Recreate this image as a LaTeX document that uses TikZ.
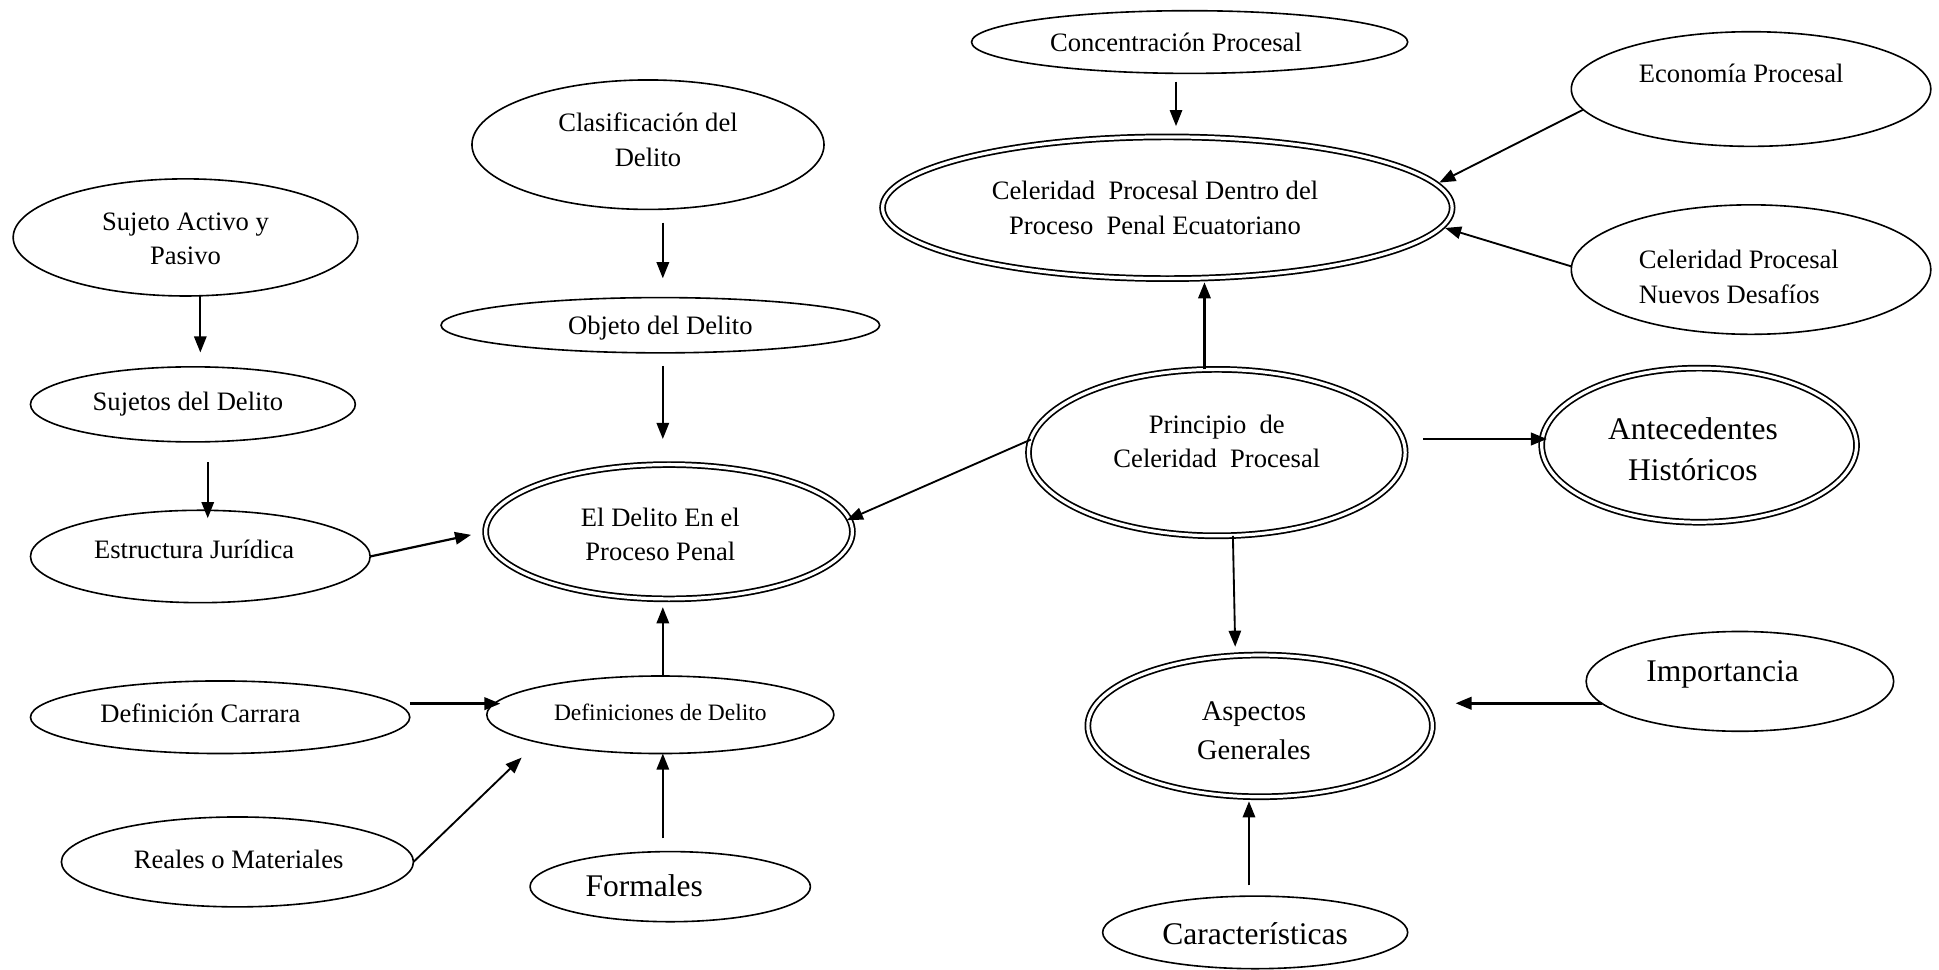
\documentclass[tikz,border=0pt]{standalone}
\usepackage{fontspec}
\setmainfont{Liberation Serif}
\usetikzlibrary{shapes.geometric,arrows.meta}
\tikzset{
  ell/.style={ellipse, draw, line width=1.3pt, inner sep=0pt, outer sep=0pt},
  dbl/.style={ellipse, draw, double, double distance=2.6pt, line width=1.4pt, inner sep=0pt, outer sep=0pt},
  txt/.style={inner sep=0pt, align=center, font=\fontsize{21.5}{28}\selectfont},
  big/.style={inner sep=0pt, align=center, font=\fontsize{25.5}{33}\selectfont},
  arr/.style={line width=1.5pt, -{Triangle[length=13pt,width=10pt]}},
  tarr/.style={line width=2.3pt, -{Triangle[length=13pt,width=10pt]}},
}
\begin{document}
\begin{tikzpicture}[x=1pt,y=-1pt]
\useasboundingbox (0,0) rectangle (1568,784);
% ellipses
\node[ell, minimum width=352.7pt, minimum height=50.7pt] (conc) at (962,34) {};
\node[ell, minimum width=290.7pt, minimum height=92.7pt] (eco) at (1416,72) {};
\node[dbl, minimum width=460.6pt, minimum height=114.6pt] (celd) at (944,168) {};
\node[ell, minimum width=290.7pt, minimum height=104.7pt] (nue) at (1416,218) {};
\node[ell, minimum width=284.7pt, minimum height=104.7pt] (clas) at (524,117) {};
\node[ell, minimum width=278.7pt, minimum height=94.7pt] (suj) at (150,192) {};
\node[ell, minimum width=354.7pt, minimum height=44.7pt] (obj) at (534,263) {};
\node[ell, minimum width=262.7pt, minimum height=60.7pt] (sujd) at (156,327) {};
\node[ell, minimum width=274.7pt, minimum height=74.7pt] (est) at (162,450) {};
\node[dbl, minimum width=296.6pt, minimum height=108.6pt] (del) at (541,430) {};
\node[dbl, minimum width=304.6pt, minimum height=134.6pt] (prin) at (984,366) {};
\node[dbl, minimum width=254.6pt, minimum height=124.6pt] (ant) at (1374,360) {};
\node[ell, minimum width=306.7pt, minimum height=58.7pt] (carr) at (178,580) {};
\node[ell, minimum width=280.7pt, minimum height=62.7pt] (defs) at (534,578) {};
\node[ell, minimum width=284.7pt, minimum height=72.7pt] (real) at (192,697) {};
\node[ell, minimum width=226.7pt, minimum height=56.7pt] (form) at (542,717) {};
\node[dbl, minimum width=278.6pt, minimum height=114.6pt] (asp) at (1019,587) {};
\node[ell, minimum width=248.7pt, minimum height=80.7pt] (imp) at (1407,551) {};
\node[ell, minimum width=246.7pt, minimum height=58.7pt] (car) at (1015,754) {};
% texts
\node[txt] (conc-t) at (951,34) {Concentración Procesal};
\node[txt] (eco-t) at (1408,59) {Economía Procesal};
\node[txt] (celd-t) at (934,168) {Celeridad\ \ Procesal Dentro del\\Proceso\ \ Penal Ecuatoriano};
\node[txt, align=left, anchor=west] (nue-t) at (1325,224) {Celeridad Procesal\\Nuevos Desafíos};
\node[txt] (clas-t) at (524,113) {Clasificación del\\Delito};
\node[txt] (suj-t) at (150,193) {Sujeto Activo y\\Pasivo};
\node[txt] (obj-t) at (534,265) {Objeto del Delito};
\node[txt] (sujd-t) at (152,327) {Sujetos del Delito};
\node[txt] (est-t) at (157,444) {Estructura Jurídica};
\node[txt] (del-t) at (534,432) {El Delito En el\\Proceso Penal};
\node[txt] (prin-t) at (984,357) {Principio\ \ de\\Celeridad\ \ Procesal};
\node[big] (ant-t) at (1369,363) {Antecedentes\\Históricos};
\node[txt] (carr-t) at (162,577) {Definición Carrara};
\node[txt, font=\fontsize{19}{24}\selectfont] (defs-t) at (534,576) {Definiciones de Delito};
\node[txt] (real-t) at (193,695) {Reales o Materiales};
\node[big] (form-t) at (521,716) {Formales};
\node[big, font=\fontsize{23}{31}\selectfont] (asp-t) at (1014,591) {Aspectos\\Generales};
\node[big] (imp-t) at (1393,545) {Importancia};
\node[big] (car-t) at (1015,755) {Características};
% connectors
\draw[arr, shorten <=6.6pt, shorten >=8.7pt] ([xshift=-11pt]conc.south) -- ([xshift=-11pt]conc.south |- celd.north);
\draw[arr, shorten >=3pt] (eco.187) -- (celd.5);
\draw[arr, shorten >=3pt] (nue.179) -- (celd.-4);
\draw[arr, line width=1.9pt, shorten >=3pt] ([xshift=-10pt]prin.north) -- ([xshift=-10pt]prin.north |- celd.south);
\draw[arr, shorten <=10.6pt, shorten >=15.6pt] ([xshift=12pt]clas.south) -- ([xshift=12pt]clas.south |- obj.north);
\draw[arr, shorten <=10.6pt, shorten >=20.7pt] ([xshift=2pt]obj.south) -- ([xshift=2pt]obj.south |- del.north);
\draw[arr, shorten >=11.6pt] ([xshift=12pt]suj.south) -- ([xshift=12pt]suj.south |- sujd.north);
\draw[arr, shorten <=16.6pt, shorten >=-6.4pt] ([xshift=12pt]sujd.south) -- ([xshift=12pt]sujd.south |- est.north);
\draw[arr, line width=1.8pt, shorten >=12pt] (est.east) -- (del.west);
\draw[arr, shorten >=-2pt] (prin.176) -- (del.4);
\draw[tarr, shorten <=14.7pt, shorten >=-4.3pt] ([yshift=11pt]prin.east) -- ([yshift=11pt]prin.east -| ant.west);
\draw[arr, shorten >=6.7pt] ([xshift=13pt]prin.south) -- ([xshift=-20pt]asp.north);
\draw[tarr, shorten >=18.7pt] (imp.189) -- (imp.189 -| asp.east);
\draw[arr, line width=1.8pt, shorten <=8.6pt, shorten >=3.7pt] ([xshift=-5pt]car.north) -- ([xshift=-5pt]car.north |- asp.south);
\draw[arr, shorten >=6.7pt] ([xshift=2pt]defs.north) -- ([xshift=2pt]defs.north |- del.south);
\draw[tarr, shorten >=-11pt] ([yshift=11pt]carr.east) -- ([yshift=11pt]carr.east -| defs.west);
\draw[arr, shorten >=18pt] (real.east) -- (defs.south west);
\draw[arr, shorten <=10.6pt] ([xshift=-6pt]form.north) -- ([xshift=-6pt]form.north |- defs.south);
\end{tikzpicture}
\end{document}
